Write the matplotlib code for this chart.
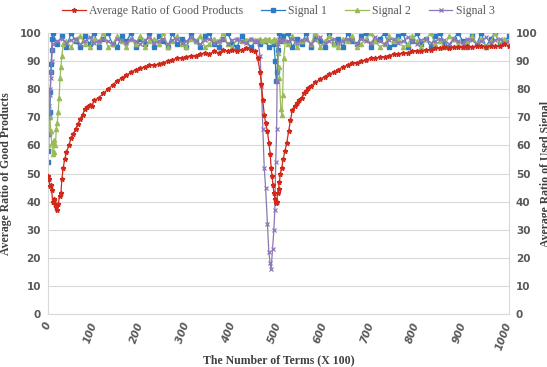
import matplotlib
matplotlib.use("Agg")
import matplotlib.pyplot as plt

# ---- data ----
good_x = [0, 2, 4, 6, 8, 10, 12, 14, 16, 18, 20, 22, 25, 28, 30, 33, 36, 40, 45, 50,
          55, 60, 65, 70, 75, 80, 85, 90, 95, 100] + list(range(110, 441, 10)) + \
         [450, 455, 460, 463, 466, 469, 472, 476, 479, 482, 484, 486, 488, 490, 492, 494,
          496, 498, 500, 502, 504, 507, 510, 514, 518, 522, 526, 530, 535, 540, 545, 550,
          555, 560, 565, 570] + list(range(580, 1001, 10))
good_y = [49, 48, 45.5, 46, 44, 40, 41, 40.5, 39, 38, 37, 39, 42, 43, 48, 52, 55, 57.5, 60, 62.5,
          64, 66, 67.5, 69.5, 71, 73, 73.5, 74.5, 74, 76,
          77, 78.5, 80, 81.5, 83, 84, 85, 86, 87, 87.5, 88, 88.5, 88.5, 89, 89.5, 90, 90.5,
          91, 91, 91.5, 92, 92, 92.5, 93, 92.5, 93.5, 93, 94, 93.5, 94, 93.5, 94, 94.5, 94,
          93.5, 91, 86, 82, 76, 71, 68, 65, 61, 57, 52, 49, 46, 43, 41, 39.5,
          40, 43, 44.5, 47, 50, 52, 55, 58, 61, 65, 69, 72.5, 74, 75, 76, 77,
          78.5, 79.5, 80.5, 81,
          82.5, 83.5, 84.5, 85.5, 86, 87, 88, 88.5, 89.5, 89.5, 90, 90.5, 91, 91, 91.5,
          91.5, 92, 92.5, 92.5, 93, 93, 93.5, 93.5, 93.5, 94, 94, 94.5, 94.5, 95, 94.5,
          95, 95, 95, 95.5, 95, 95.5, 95.5, 95, 95.5, 95.5, 95.5, 96, 95.5]

sig1_x = list(range(0, 11)) + list(range(20, 451, 10)) + \
         [460, 470, 480, 490, 493, 495, 497, 499, 502, 505, 510] + list(range(520, 1001, 10))
sig1_y = [54, 58, 64, 70, 72, 79, 86, 89, 94, 98, 100,
          96, 99, 95, 100, 97, 95, 99, 96, 100, 95, 98, 100, 96, 95, 99, 97, 100, 95, 98, 96,
          100, 95, 99, 97, 95, 100, 96, 98, 95, 100, 97, 95, 99, 100, 96, 95, 98, 100, 96, 95,
          99, 97, 95, 97,
          96, 97, 95, 96, 90, 83, 86, 94, 100, 97, 99,
          100, 95, 98, 96, 100, 95, 99, 97, 95, 100, 96, 98, 95, 100, 97, 96, 99, 100, 95, 97,
          98, 100, 95, 96, 99, 100, 95, 97, 100, 96, 98, 95, 99, 100, 96, 95, 98, 100, 97, 95,
          99, 96, 100, 95, 98, 100, 96, 97, 99]

sig2_x = [0, 2, 4, 6, 8, 10, 12, 14, 16, 18, 20, 22, 24, 26, 28, 30, 33] + \
         list(range(40, 451, 10)) + \
         [455, 460, 465, 470, 475, 480, 485, 490, 495, 498, 500, 502, 505, 507, 509, 511, 515] + \
         list(range(520, 1001, 10))
sig2_y = [60, 65, 70, 65, 61, 57, 57.5, 62, 60, 66, 68, 72, 77, 84, 88, 92, 96,
          97, 95, 98, 99, 96, 95, 98, 97, 100, 95, 96, 99, 97, 95, 98, 96, 99, 95, 97, 98,
          96, 100, 95, 97, 99, 96, 95, 98, 97, 99, 95, 96, 98, 97, 100, 96, 95, 98, 97, 97.5,
          98, 97.5,
          97.5, 98, 97, 98, 97.5, 98, 97, 98, 97.5, 93, 88, 84, 73, 71, 78, 91, 97,
          96, 99, 95, 97, 98, 96, 100, 95, 97, 99, 96, 95, 98, 97, 99, 95, 96, 98, 100, 97,
          95, 96, 99, 97, 98, 95, 96, 99, 97, 95, 98, 100, 96, 97, 95, 99, 98, 96, 95, 97,
          99, 96, 98, 95, 97, 100, 96, 98, 97]

sig3_x = list(range(0, 11)) + list(range(20, 451, 10)) + \
         [455, 460, 463, 466, 469, 472, 476, 479, 482, 484, 487, 490, 492, 494, 496, 497,
          499, 502, 506, 510] + list(range(520, 1001, 10))
sig3_y = [64, 70, 74, 72, 78, 80, 84, 86, 90, 94, 96,
          97, 98, 96.5, 97.5, 98, 96, 97, 98.5, 96.5, 97, 98, 97, 96, 98, 97.5, 96.5, 98, 97,
          96, 97.5, 98.5, 96.5, 97, 98, 96, 97.5, 98, 96.5, 97, 98.5, 97, 96, 97.5, 98, 96.5,
          97, 98, 96, 97.5, 98, 97, 96.5, 98, 97,
          97, 92, 81, 66, 52, 45, 32, 22, 18, 16, 23, 30, 37, 54, 66, 83, 96, 98, 97, 97.5,
          97, 98, 96.5, 97.5, 98, 96, 97.5, 98.5, 96.5, 97, 98, 96.5, 97, 98, 97.5, 96, 98,
          97, 96.5, 98.5, 97, 96, 97.5, 98, 96.5, 97, 98.5, 97, 96, 97.5, 98, 96.5, 97, 98,
          97.5, 96, 98, 97, 96.5, 98, 97.5, 96, 97, 98.5, 96.5, 97.5, 98, 96.5, 97]

x_ticks = list(range(0, 1001, 100))
y_ticks = list(range(0, 101, 10))

serif = "Liberation Serif"
grey = "#595959"

fig = plt.figure(figsize=(5.47, 3.67), dpi=100)
ax = fig.add_axes([0.0878, 0.1444, 0.8427, 0.7656])

ax.plot(good_x, good_y, color="#D0281B", marker="*", ms=3.5, lw=0.9,
        label="Average Ratio of Good Products", zorder=3)
ax.plot(sig1_x, sig1_y, color="#2D7BC4", marker="s", ms=3, lw=0.9, label="Signal 1", zorder=2)
ax.plot(sig2_x, sig2_y, color="#9BBB59", marker="^", ms=3, lw=0.9, label="Signal 2", zorder=2.2)
ax.plot(sig3_x, sig3_y, color="#8C78B4", marker="x", ms=3, lw=0.9, mew=0.9,
        label="Signal 3", zorder=2.4)

ax.set_xlim(0, 1000)
ax.set_ylim(0, 100)
ax.set_xticks(x_ticks)
ax.set_yticks(y_ticks)
ax.grid(axis="y", color="#D9D9D9", lw=0.8)
ax.set_axisbelow(True)
for s in ["left", "right", "bottom"]:
    ax.spines[s].set_color("#D9D9D9")
ax.spines["top"].set_visible(False)
ax.tick_params(length=0, colors=grey, labelsize=7.5)
ax.tick_params(axis="y", pad=5)
for lab in ax.get_yticklabels():
    lab.set_fontweight("bold")
ax.set_xticklabels([str(v) for v in x_ticks], rotation=70, ha="right", va="center",
                   rotation_mode="anchor", fontweight="bold", fontstyle="italic")
ax.tick_params(axis="x", pad=6)

# right axis (same scale)
ax2 = ax.twinx()
ax2.set_ylim(0, 100)
ax2.set_yticks(y_ticks)
ax2.tick_params(length=0, colors=grey, labelsize=7.5, pad=5)
for lab in ax2.get_yticklabels():
    lab.set_fontweight("bold")
for s in ax2.spines.values():
    s.set_visible(False)
ax2.set_ylabel("Average Ratio of Used Signal", family=serif, fontsize=8.5,
               fontweight="bold", color="#404040")
ax2.yaxis.set_label_coords(1.068, 0.5)

ax.set_ylabel("Average Ratio of Good Products", family=serif, fontsize=8.5,
              fontweight="bold", color="#404040")
ax.yaxis.set_label_coords(-0.078, 0.5)
ax.set_xlabel("The Number of Terms (X 100)", family=serif, fontsize=8.5,
              fontweight="bold", color="#404040")
ax.xaxis.set_label_coords(0.5, -0.142)

leg = ax.legend(loc="lower center", bbox_to_anchor=(0.5, 1.02), ncol=4, frameon=False,
                prop={"family": serif, "size": 8.5}, handlelength=2, columnspacing=1.5,
                handletextpad=0.3, labelcolor=grey)

fig.savefig("out.png", dpi=100)
